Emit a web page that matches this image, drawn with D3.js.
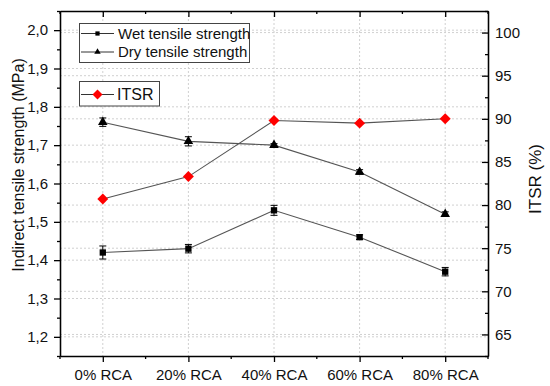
<!DOCTYPE html>
<html>
<head>
<meta charset="utf-8">
<script src="https://cdn.jsdelivr.net/npm/d3@7"></script>
<style>
  body { margin: 0; background: #fff; }
  svg { font-family: "Liberation Sans", Arial, sans-serif; }
</style>
</head>
<body>
<svg id="chart" width="550" height="386"></svg>
<script>
const categories = ['0% RCA', '20% RCA', '40% RCA', '60% RCA', '80% RCA'];
const wet = [1.42, 1.43, 1.53, 1.46, 1.37];
const wetErr = [0.017, 0.011, 0.013, 0.006, 0.011];
const dry = [1.76, 1.71, 1.70, 1.63, 1.52];
const dryErr = [0.011, 0.012, 0.004, 0.006, 0.006];
const itsr = [80.7, 83.3, 89.8, 89.5, 90.0];
const leftTicks = [1.2, 1.3, 1.4, 1.5, 1.6, 1.7, 1.8, 1.9, 2.0];
const rightTicks = [65, 70, 75, 80, 85, 90, 95, 100];

const svg = d3.select('#chart');
const pLeft = 60, pRight = 488, pTop = 11, pBottom = 356;

const x = d3.scalePoint().domain(categories).range([pLeft, pRight]).padding(0.5);
const y = d3.scaleLinear().domain([1.15, 2.05]).range([pBottom, pTop]);
const y2 = d3.scaleLinear().domain([62.5, 102.5]).range([pBottom, pTop]);
const fmt = d => d3.format('.1f')(d).replace('.', ',');

// grid
const grid = svg.append('g').attr('stroke', '#d0d0d0').attr('stroke-dasharray', '2,2');
grid.selectAll('.gx').data(categories).join('line')
    .attr('x1', d => x(d)).attr('x2', d => x(d)).attr('y1', pTop).attr('y2', pBottom);
grid.selectAll('.gy').data(leftTicks).join('line')
    .attr('x1', pLeft).attr('x2', pRight).attr('y1', d => y(d)).attr('y2', d => y(d));
grid.selectAll('.gy2').data(rightTicks).join('line')
    .attr('x1', pLeft).attr('x2', pRight).attr('y1', d => y2(d)).attr('y2', d => y2(d));

// axes
const minorX = d3.range(0, categories.length + 1).map(i => pLeft + i * x.step());
const yMinor = d3.range(1.15, 2.06, 0.1);
const y2Minor = d3.range(62.5, 103, 5);

svg.append('g').attr('transform', `translate(${pLeft},0)`)
    .call(d3.axisLeft(y).tickValues(leftTicks).tickFormat(fmt).tickSize(6).tickPadding(6).tickSizeOuter(0));
svg.append('g').attr('transform', `translate(${pLeft},0)`)
    .call(d3.axisLeft(y).tickValues(yMinor).tickFormat('').tickSize(3).tickSizeOuter(0));
svg.append('g').attr('transform', `translate(${pRight},0)`)
    .call(d3.axisRight(y2).tickValues(rightTicks).tickSize(-6).tickPadding(7).tickSizeOuter(0));
svg.append('g').attr('transform', `translate(${pRight},0)`)
    .call(d3.axisRight(y2).tickValues(y2Minor).tickFormat('').tickSize(-3).tickSizeOuter(0));
svg.append('g').attr('transform', `translate(0,${pBottom})`)
    .call(d3.axisBottom(x).tickSize(6).tickPadding(7).tickSizeOuter(0));
svg.append('g').attr('class', 'minor').selectAll('line').data(minorX).join('line')
    .attr('x1', d => d).attr('x2', d => d).attr('y1', pBottom).attr('y2', pBottom + 3);
svg.append('g').attr('transform', `translate(0,${pTop})`)
    .call(d3.axisTop(x).tickSize(-6).tickFormat('').tickSizeOuter(0));
svg.append('g').attr('class', 'minor').selectAll('line').data(minorX).join('line')
    .attr('x1', d => d).attr('x2', d => d).attr('y1', pTop).attr('y2', pTop + 3);

svg.selectAll('.domain, .tick line, .minor line').attr('stroke', '#000').attr('stroke-width', 1.3);
svg.selectAll('.tick text').attr('font-size', 15).attr('fill', '#111')
    .attr('font-family', '"Liberation Sans", Arial, sans-serif');

// axis titles
svg.append('text').attr('transform', `translate(24,165) rotate(-90)`)
    .attr('text-anchor', 'middle').attr('font-size', 16).attr('fill', '#111')
    .text('Indirect tensile strength (MPa)');
svg.append('text').attr('transform', `translate(541,179) rotate(-90)`)
    .attr('text-anchor', 'middle').attr('font-size', 17).attr('fill', '#111')
    .text('ITSR (%)');

// lines
const line = d3.line().x((d, i) => x(categories[i]));
svg.append('path').datum(wet).attr('fill', 'none').attr('stroke', '#555').attr('stroke-width', 1.1)
    .attr('d', line.y(d => y(d)));
svg.append('path').datum(dry).attr('fill', 'none').attr('stroke', '#555').attr('stroke-width', 1.1)
    .attr('d', line.y(d => y(d)));
svg.append('path').datum(itsr).attr('fill', 'none').attr('stroke', '#555').attr('stroke-width', 1.1)
    .attr('d', line.y(d => y2(d)));

// error bars
function errBars(vals, errs) {
  const g = svg.append('g').attr('stroke', '#000').attr('stroke-width', 1);
  vals.forEach((v, i) => {
    const cx = x(categories[i]);
    g.append('line').attr('x1', cx).attr('x2', cx).attr('y1', y(v - errs[i])).attr('y2', y(v + errs[i]));
    [v - errs[i], v + errs[i]].forEach(e => {
      g.append('line').attr('x1', cx - 3.5).attr('x2', cx + 3.5).attr('y1', y(e)).attr('y2', y(e));
    });
  });
}
errBars(wet, wetErr);
errBars(dry, dryErr);

// markers
svg.selectAll('.sq').data(wet).join('path')
    .attr('transform', (d, i) => `translate(${x(categories[i])},${y(d)})`)
    .attr('d', d3.symbol(d3.symbolSquare, 40)).attr('fill', '#000');
svg.selectAll('.tri').data(dry).join('path')
    .attr('transform', (d, i) => `translate(${x(categories[i])},${y(d)})`)
    .attr('d', d3.symbol(d3.symbolTriangle, 40)).attr('fill', '#000');
svg.selectAll('.dia').data(itsr).join('path')
    .attr('transform', (d, i) => `translate(${x(categories[i])},${y2(d)}) rotate(45)`)
    .attr('d', d3.symbol(d3.symbolSquare, 60)).attr('fill', '#ff0000');

// legends
const leg1 = svg.append('g');
leg1.append('rect').attr('x', 79.5).attr('y', 23.5).attr('width', 170).attr('height', 39)
    .attr('fill', '#fff').attr('stroke', '#444');
[['Wet tensile strength', d3.symbolSquare, 33.5], ['Dry tensile strength', d3.symbolTriangle, 52]]
  .forEach(([label, sym, ly]) => {
    leg1.append('line').attr('x1', 81).attr('x2', 114).attr('y1', ly).attr('y2', ly).attr('stroke', '#333');
    leg1.append('path').attr('transform', `translate(97.5,${ly})`).attr('d', d3.symbol(sym, 18)).attr('fill', '#000');
    leg1.append('text').attr('x', 118).attr('y', ly + 5).attr('font-size', 15).attr('fill', '#111').text(label);
  });
const leg2 = svg.append('g');
leg2.append('rect').attr('x', 79.5).attr('y', 81.5).attr('width', 80).attr('height', 24.5)
    .attr('fill', '#fff').attr('stroke', '#444');
leg2.append('line').attr('x1', 81).attr('x2', 114).attr('y1', 94.5).attr('y2', 94.5).attr('stroke', '#333');
leg2.append('path').attr('transform', 'translate(97.5,94.5) rotate(45)').attr('d', d3.symbol(d3.symbolSquare, 50)).attr('fill', '#ff0000');
leg2.append('text').attr('x', 117).attr('y', 100).attr('font-size', 16).attr('fill', '#111').text('ITSR');
</script>
</body>
</html>
